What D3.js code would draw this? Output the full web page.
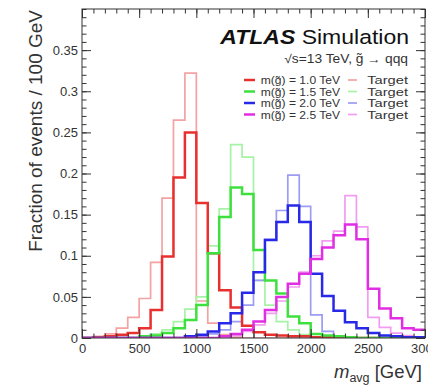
<!DOCTYPE html>
<html>
<head>
<meta charset="utf-8">
<script src="https://cdn.jsdelivr.net/npm/d3@7"></script>
<style>
  body { margin: 0; background: #fff; }
  svg { display: block; font-family: "Liberation Sans", Arial, sans-serif; }
</style>
</head>
<body>
<svg width="428" height="385"></svg>
<script>
// bin low edges in GeV (100 GeV bins), last entry closes the final bin
let binEdges = [0, 100, 200, 300, 400, 500, 600, 700, 800, 900, 1000, 1100, 1200, 1300, 1400,
                1500, 1600, 1700, 1800, 1900, 2000, 2100, 2200, 2300, 2400, 2500, 2600, 2700, 2800, 2900, 3000];

// reconstructed m_avg, fraction of events per bin
let recoM1000 = [0, 0.001, 0.002, 0.004, 0.006, 0.012, 0.034, 0.099, 0.195, 0.25, 0.164, 0.103, 0.058, 0.037, 0.015,
                 0.007, 0.004, 0.003, 0.002, 0.002, 0.001, 0.001, 0.001, 0, 0, 0, 0, 0, 0, 0];
let recoM1500 = [0, 0, 0, 0, 0, 0.002, 0.003, 0.006, 0.012, 0.022, 0.04, 0.103, 0.147, 0.183, 0.175,
                 0.107, 0.07, 0.054, 0.026, 0.018, 0.005, 0.003, 0.002, 0.001, 0, 0, 0, 0, 0, 0];
let recoM2000 = [0, 0, 0, 0, 0, 0, 0, 0, 0, 0.002, 0.004, 0.008, 0.018, 0.03, 0.055,
                 0.08, 0.119, 0.141, 0.161, 0.141, 0.078, 0.051, 0.033, 0.019, 0.012, 0.006, 0.003, 0.002, 0.001, 0.001];
let recoM2500 = [0, 0, 0, 0, 0, 0, 0, 0, 0, 0, 0, 0, 0.002, 0.005, 0.01,
                 0.02, 0.034, 0.05, 0.066, 0.078, 0.096, 0.11, 0.125, 0.138, 0.12, 0.06, 0.036, 0.024, 0.012, 0.01];

// target distributions
let targetM1000 = [0, 0.002, 0.005, 0.012, 0.025, 0.048, 0.092, 0.17, 0.265, 0.322, 0.045, 0.018, 0.004, 0.001, 0,
                   0, 0, 0, 0, 0, 0, 0, 0, 0, 0, 0, 0, 0, 0, 0];
let targetM1500 = [0, 0, 0, 0, 0, 0.002, 0.005, 0.01, 0.02, 0.035, 0.05, 0.112, 0.157, 0.235, 0.22,
                   0.07, 0.04, 0.02, 0.01, 0.004, 0.001, 0, 0, 0, 0, 0, 0, 0, 0, 0];
let targetM2000 = [0, 0, 0, 0, 0, 0, 0, 0, 0, 0, 0.002, 0.005, 0.01, 0.02, 0.04,
                   0.07, 0.12, 0.155, 0.198, 0.16, 0.028, 0.008, 0.002, 0, 0, 0, 0, 0, 0, 0];
let targetM2500 = [0, 0, 0, 0, 0, 0, 0, 0, 0, 0, 0, 0, 0, 0.003, 0.008,
                   0.016, 0.03, 0.045, 0.062, 0.08, 0.1, 0.118, 0.13, 0.173, 0.135, 0.025, 0.013, 0.006, 0.003, 0.001];

let massLabels = ["1.0", "1.5", "2.0", "2.5"];
let xTickLabels = [0, 500, 1000, 1500, 2000, 2500, 3000];
let yTickLabels = [0, 0.05, 0.1, 0.15, 0.2, 0.25, 0.3, 0.35];

let recoColors = ["#e8302e", "#3ee03e", "#2828e8", "#e22ee2"];
let targetColors = ["#f4a2a2", "#a6f2a6", "#9c9cf2", "#f29cf2"];

let padLeft = 82, padRight = 425, padTop = 9, padBottom = 338;

let svg = d3.select("svg");

let xScale = d3.scaleLinear().domain([0, 3000]).range([padLeft, padRight]);
let yScale = d3.scaleLinear().domain([0, 0.4]).range([padBottom, padTop]);

// clip histograms to the frame
svg.append("clipPath").attr("id", "plotArea")
   .append("rect")
   .attr("x", padLeft).attr("y", padTop)
   .attr("width", padRight - padLeft).attr("height", padBottom - padTop);

let histPoints = function(values) {
  let pts = values.map((v, i) => [binEdges[i], v]);
  pts.push([binEdges[binEdges.length - 1], values[values.length - 1]]);
  return pts;
}

let stepLine = d3.line()
  .x(d => xScale(d[0]))
  .y(d => yScale(d[1]))
  .curve(d3.curveStepAfter);

let plot = svg.append("g").attr("clip-path", "url(#plotArea)");

let targets = [targetM1000, targetM1500, targetM2000, targetM2500];
let recos = [recoM1000, recoM1500, recoM2000, recoM2500];

// lighter target outlines first, then the reconstructed ones on top
targets.forEach((vals, i) => {
  plot.append("path")
      .attr("d", stepLine(histPoints(vals)))
      .attr("fill", "none")
      .attr("stroke", targetColors[i])
      .attr("stroke-width", 1.7);
});
recos.forEach((vals, i) => {
  plot.append("path")
      .attr("d", stepLine(histPoints(vals)))
      .attr("fill", "none")
      .attr("stroke", recoColors[i])
      .attr("stroke-width", 2.5);
});

// axes: major + minor ticks on all four sides, pointing inwards
let tickStyle = function(g) {
  g.select(".domain").remove();
  g.selectAll("line").attr("stroke", "#333");
  g.selectAll("text").attr("fill", "#333").style("font-size", "13px");
}

svg.append("g")
   .attr("transform", "translate(0," + padBottom + ")")
   .call(d3.axisBottom(xScale).tickValues(xTickLabels).tickSize(-9).tickPadding(6).tickFormat(d3.format("d")))
   .call(tickStyle);
svg.append("g")
   .attr("transform", "translate(0," + padBottom + ")")
   .call(d3.axisBottom(xScale).ticks(30).tickSize(-4.5).tickFormat(""))
   .call(tickStyle);
svg.append("g")
   .attr("transform", "translate(0," + padTop + ")")
   .call(d3.axisTop(xScale).tickValues(xTickLabels).tickSize(-9).tickFormat(""))
   .call(tickStyle);
svg.append("g")
   .attr("transform", "translate(0," + padTop + ")")
   .call(d3.axisTop(xScale).ticks(30).tickSize(-4.5).tickFormat(""))
   .call(tickStyle);

svg.append("g")
   .attr("transform", "translate(" + padLeft + ",0)")
   .call(d3.axisLeft(yScale).tickValues(yTickLabels).tickSize(-9).tickPadding(4).tickFormat(d3.format("~g")))
   .call(tickStyle);
svg.append("g")
   .attr("transform", "translate(" + padLeft + ",0)")
   .call(d3.axisLeft(yScale).ticks(40).tickSize(-4.5).tickFormat(""))
   .call(tickStyle);
svg.append("g")
   .attr("transform", "translate(" + padRight + ",0)")
   .call(d3.axisRight(yScale).tickValues(yTickLabels).tickSize(-9).tickFormat(""))
   .call(tickStyle);
svg.append("g")
   .attr("transform", "translate(" + padRight + ",0)")
   .call(d3.axisRight(yScale).ticks(40).tickSize(-4.5).tickFormat(""))
   .call(tickStyle);

// frame
svg.append("rect")
   .attr("x", padLeft).attr("y", padTop)
   .attr("width", padRight - padLeft).attr("height", padBottom - padTop)
   .attr("fill", "none")
   .attr("stroke", "#333")
   .attr("stroke-width", 1);

// axis titles
svg.append("text")
   .attr("transform", "translate(42," + (padTop + 1) + ") rotate(-90)")
   .attr("text-anchor", "end")
   .attr("fill", "#333")
   .style("font-size", "19px")
   .text("Fraction of events / 100 GeV");

let xTitle = svg.append("text")
   .attr("x", 422)
   .attr("y", 378)
   .attr("text-anchor", "end")
   .attr("fill", "#333")
   .style("font-size", "18.5px");
xTitle.append("tspan").style("font-style", "italic").text("m");
xTitle.append("tspan").attr("dy", 4).style("font-size", "12.5px").text("avg");
xTitle.append("tspan").attr("dy", -4).text(" [GeV]");

// ATLAS label
let atlas = svg.append("text")
   .attr("transform", "translate(409,44) scale(1.18,1)")
   .attr("text-anchor", "end")
   .attr("fill", "#111")
   .style("font-size", "19.5px");
atlas.append("tspan").style("font-weight", "bold").style("font-style", "italic").text("ATLAS");
atlas.append("tspan").text(" Simulation");

svg.append("text")
   .attr("transform", "translate(408,63) scale(1.15,1)")
   .attr("text-anchor", "end")
   .attr("fill", "#333")
   .style("font-size", "12px")
   .text("\u221As=13 TeV, g\u0303 \u2192 qqq");

// legend
let legend = svg.append("g").attr("id", "legend");
massLabels.forEach((m, i) => {
  let yc = 80 + i * 11.5;
  legend.append("line")
        .attr("x1", 244).attr("x2", 255)
        .attr("y1", yc).attr("y2", yc)
        .attr("stroke", recoColors[i]).attr("stroke-width", 2.5);
  legend.append("text")
        .attr("transform", "translate(340," + (yc + 4) + ") scale(1.15,1)")
        .attr("text-anchor", "end")
        .attr("fill", "#333")
        .style("font-size", "10.5px")
        .text("m(g\u0303) = " + m + " TeV");
  legend.append("line")
        .attr("x1", 348).attr("x2", 357)
        .attr("y1", yc).attr("y2", yc)
        .attr("stroke", targetColors[i]).attr("stroke-width", 1.7);
  legend.append("text")
        .attr("transform", "translate(408," + (yc + 4) + ") scale(1.4,1)")
        .attr("text-anchor", "end")
        .attr("fill", "#333")
        .style("font-size", "10.5px")
        .text("Target");
});
</script>
</body>
</html>
